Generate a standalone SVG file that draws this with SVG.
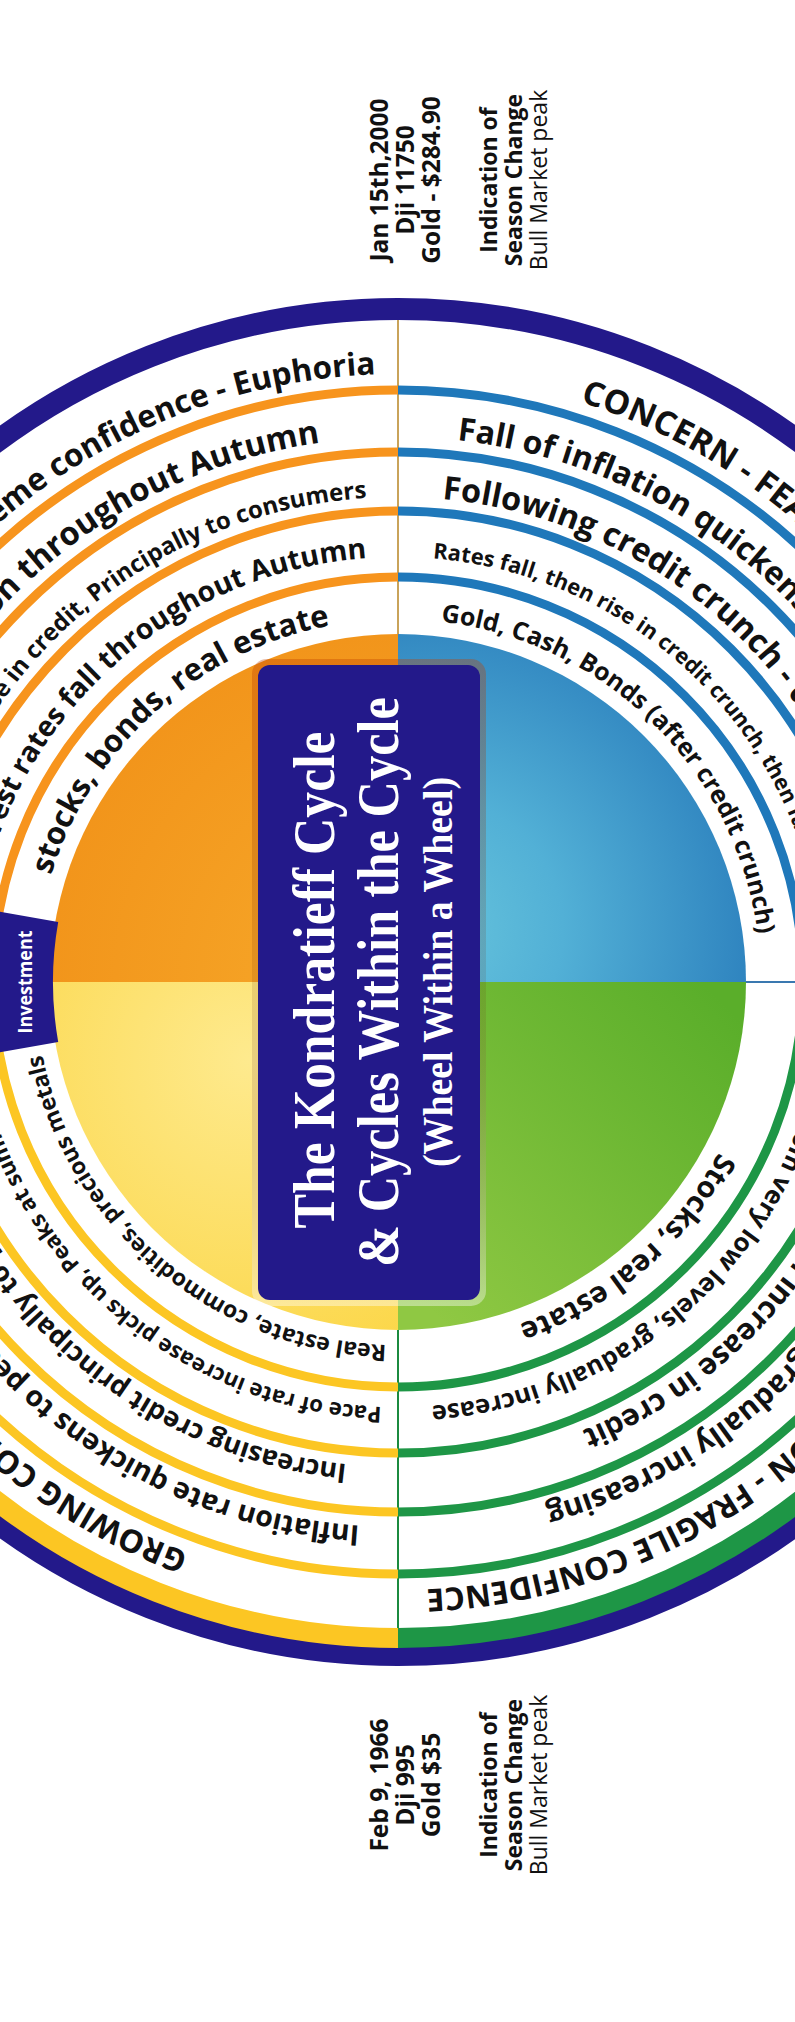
<svg xmlns="http://www.w3.org/2000/svg" width="795" height="2022" viewBox="0 0 795 2022">
<defs>
<style>
.t{font-family:"Open Sans","Liberation Sans",sans-serif;font-weight:700;fill:#111}
.ann{font-family:"Open Sans","Liberation Sans",sans-serif;fill:#111;text-anchor:middle}
.ttl{font-family:"Liberation Serif","Times New Roman",serif;font-weight:700;fill:#fff;text-anchor:middle}
.ln{fill:none;stroke-width:9}
.o{stroke:#F7941D}.b{stroke:#1F78BA}.g{stroke:#1E9646}.y{stroke:#FCC623}
</style>
<radialGradient id="gTL" gradientUnits="userSpaceOnUse" cx="398" cy="982" r="348"><stop offset="0" stop-color="#F7AA2B"/><stop offset="1" stop-color="#F2951B"/></radialGradient>
<radialGradient id="gTR" gradientUnits="userSpaceOnUse" cx="430" cy="930" r="380"><stop offset="0" stop-color="#66C4DC"/><stop offset="0.35" stop-color="#52B0D6"/><stop offset="1" stop-color="#2476B8"/></radialGradient>
<linearGradient id="gBR" gradientUnits="userSpaceOnUse" x1="420" y1="1300" x2="720" y2="1000"><stop offset="0" stop-color="#8FC843"/><stop offset="1" stop-color="#5AAE2A"/></linearGradient>
<radialGradient id="gBL" gradientUnits="userSpaceOnUse" cx="250" cy="1060" r="360"><stop offset="0" stop-color="#FEEA8E"/><stop offset="1" stop-color="#FBD43F"/></radialGradient>
<linearGradient id="gGlow" x1="0" y1="0" x2="0" y2="1"><stop offset="0" stop-color="#c04000" stop-opacity="0.35"/><stop offset="0.5" stop-color="#602000" stop-opacity="0.12"/><stop offset="1" stop-color="#fff" stop-opacity="0.4"/></linearGradient>
<path id="c608" d="M -210,982 A 608 608 0 1 1 1006,982 A 608 608 0 1 1 -210,982"/>
<path id="c545" d="M -147,982 A 545 545 0 1 1 943,982 A 545 545 0 1 1 -147,982"/>
<path id="c485" d="M -87,982 A 485 485 0 1 1 883,982 A 485 485 0 1 1 -87,982"/>
<path id="c425" d="M -27,982 A 425 425 0 1 1 823,982 A 425 425 0 1 1 -27,982"/>
<path id="c363" d="M 35,982 A 363 363 0 1 1 761,982 A 363 363 0 1 1 35,982"/>
</defs>
<rect width="795" height="2022" fill="#fff"/>

<g id="connectors">
<line x1="398" y1="318" x2="398" y2="636" stroke="#C9A35A" stroke-width="2"/>
<line x1="398" y1="1328" x2="398" y2="1666" stroke="#1B8A3F" stroke-width="2"/>
<line x1="745" y1="982" x2="795" y2="982" stroke="#3A78B0" stroke-width="2"/>
</g>

<g id="rings">
<path class="ln o" d="M -7,982 A 405 405 0 0 1 398,577"/>
<path class="ln o" d="M -73,982 A 471 471 0 0 1 398,511"/>
<path class="ln o" d="M -132,982 A 530 530 0 0 1 398,452"/>
<path class="ln o" d="M -194,982 A 592 592 0 0 1 398,390"/>
<path class="ln b" d="M 398,577 A 405 405 0 0 1 803,982"/>
<path class="ln b" d="M 398,511 A 471 471 0 0 1 869,982"/>
<path class="ln b" d="M 398,452 A 530 530 0 0 1 928,982"/>
<path class="ln b" d="M 398,390 A 592 592 0 0 1 990,982"/>
<path class="ln g" d="M 803,982 A 405 405 0 0 1 398,1387"/>
<path class="ln g" d="M 869,982 A 471 471 0 0 1 398,1453"/>
<path class="ln g" d="M 928,982 A 530 530 0 0 1 398,1512"/>
<path class="ln g" d="M 990,982 A 592 592 0 0 1 398,1574"/>
<path class="ln y" d="M 398,1387 A 405 405 0 0 1 -7,982"/>
<path class="ln y" d="M 398,1453 A 471 471 0 0 1 -73,982"/>
<path class="ln y" d="M 398,1512 A 530 530 0 0 1 -132,982"/>
<path class="ln y" d="M 398,1574 A 592 592 0 0 1 -194,982"/>
<circle cx="398" cy="982" r="673" fill="none" stroke="#23198A" stroke-width="22"/>
<path d="M 1054,982 A 656 656 0 0 1 398,1638" fill="none" stroke="#1E9646" stroke-width="20"/>
<path d="M 398,1638 A 656 656 0 0 1 -258,982" fill="none" stroke="#FCC623" stroke-width="20"/>
</g>

<g id="disk">
<path d="M 398,982 L 50,982 A 348 348 0 0 1 398,634 Z" fill="url(#gTL)"/>
<path d="M 398,982 L 398,634 A 348 348 0 0 1 746,982 Z" fill="url(#gTR)"/>
<path d="M 398,982 L 746,982 A 348 348 0 0 1 398,1330 Z" fill="url(#gBR)"/>
<path d="M 398,982 L 398,1330 A 348 348 0 0 1 50,982 Z" fill="url(#gBL)"/>
</g>

<g id="investment-tab">
<path d="M 58.2,922.1 L -291.4,860.5 L -291.4,1103.5 L 58.2,1041.9 A 345 345 0 0 1 58.2,922.1 Z" fill="#23198A"/>
<text transform="translate(32,982) rotate(-90)" text-anchor="middle" font-family="Open Sans, Liberation Sans, sans-serif" font-weight="700" font-size="19" fill="#fff" textLength="103" lengthAdjust="spacingAndGlyphs">Investment</text>
</g>

<g id="title">
<rect x="252" y="659" width="234" height="647" rx="15" fill="url(#gGlow)"/>
<rect x="258" y="665" width="222" height="635" rx="12" fill="#23198A"/>
<text class="ttl" transform="translate(334,980) rotate(-90)" font-size="60" textLength="497" lengthAdjust="spacingAndGlyphs">The Kondratieff Cycle</text>
<text class="ttl" transform="translate(398,982) rotate(-90)" font-size="60" textLength="570" lengthAdjust="spacingAndGlyphs">&amp; Cycles Within the Cycle</text>
<text class="ttl" transform="translate(452,972) rotate(-90)" font-size="42" textLength="390" lengthAdjust="spacingAndGlyphs">(Wheel Within a Wheel)</text>
</g>

<g id="autumn-quadrant">
<text class="t" font-size="31.5" text-anchor="end"><textPath href="#c608" startOffset="932.8">Extreme confidence - Euphoria</textPath></text>
<text class="t" font-size="32.5" text-anchor="end"><textPath href="#c545" startOffset="778.1">Disinflation throughout Autumn</textPath></text>
<text class="t" font-size="24" text-anchor="end"><textPath href="#c485" startOffset="730.5">Large increase in credit, Principally to consumers</textPath></text>
<text class="t" font-size="28.5" text-anchor="end"><textPath href="#c425" startOffset="636.5">Interest rates fall throughout Autumn</textPath></text>
<text class="t" font-size="31" text-anchor="middle"><textPath href="#c363" startOffset="305.1">stocks, bonds, real estate</textPath></text>
</g>

<g id="winter-quadrant">
<text class="t" font-size="33.5" text-anchor="start"><textPath href="#c608" startOffset="1139.7">CONCERN - FEAR</textPath></text>
<text class="t" font-size="32" text-anchor="start"><textPath href="#c545" startOffset="915.1">Fall of inflation quickens</textPath></text>
<text class="t" font-size="32.5" text-anchor="start"><textPath href="#c485" startOffset="805.9">Following credit crunch - deflation</textPath></text>
<text class="t" font-size="21.8" text-anchor="start"><textPath href="#c425" startOffset="702.5">Rates fall, then rise in credit crunch, then fall</textPath></text>
<text class="t" font-size="25" text-anchor="middle"><textPath href="#c363" startOffset="852.5">Gold, Cash, Bonds (after credit crunch)</textPath></text>
</g>

<g id="spring-quadrant">
<text class="t" font-size="31.5" text-anchor="end"><textPath href="#c608" startOffset="2836.6">CAUTION - FRAGILE CONFIDENCE</textPath></text>
<text class="t" font-size="30" text-anchor="end"><textPath href="#c545" startOffset="2418.9">Inflation gradually increasing</textPath></text>
<text class="t" font-size="30" text-anchor="end"><textPath href="#c485" startOffset="2096.8">Gradual increase in credit</textPath></text>
<text class="t" font-size="25.5" text-anchor="end"><textPath href="#c425" startOffset="1969.5">Rates from very low levels, gradually increase</textPath></text>
<text class="t" font-size="29.5" text-anchor="middle"><textPath href="#c363" startOffset="1451.9">Stocks, real estate</textPath></text>
</g>

<g id="summer-quadrant">
<text class="t" font-size="32" text-anchor="start"><textPath href="#c608" startOffset="3078.5">GROWING CONFIDENCE</textPath></text>
<text class="t" font-size="28.5" text-anchor="start"><textPath href="#c545" startOffset="2606.3">Inflation rate quickens to peak</textPath></text>
<text class="t" font-size="27" text-anchor="start"><textPath href="#c485" startOffset="2336.3">Increasing credit principally to producers</textPath></text>
<text class="t" font-size="22.3" text-anchor="start"><textPath href="#c425" startOffset="2019.2">Pace of rate increase picks up, Peaks at summit</textPath></text>
<text class="t" font-size="23" text-anchor="middle"><textPath href="#c363" startOffset="1964.2">Real estate, commodities, precious metals</textPath></text>
</g>

<g id="note-top">
<text class="ann" font-weight="700" font-size="24.5" transform="translate(388,180) rotate(-90)">Jan 15th,2000</text>
<text class="ann" font-weight="700" font-size="24.5" transform="translate(414,180) rotate(-90)">Dji 11750</text>
<text class="ann" font-weight="700" font-size="24.5" transform="translate(440,180) rotate(-90)">Gold - $284.90</text>
<text class="ann" font-weight="700" font-size="23" transform="translate(497,180) rotate(-90)">Indication of</text>
<text class="ann" font-weight="700" font-size="23" transform="translate(522,180) rotate(-90)">Season Change</text>
<text class="ann" font-weight="400" font-size="23" transform="translate(547,180) rotate(-90)">Bull Market peak</text>
</g>

<g id="note-bottom">
<text class="ann" font-weight="700" font-size="24.5" transform="translate(388,1785) rotate(-90)">Feb 9, 1966</text>
<text class="ann" font-weight="700" font-size="24.5" transform="translate(414,1785) rotate(-90)">Dji 995</text>
<text class="ann" font-weight="700" font-size="24.5" transform="translate(440,1785) rotate(-90)">Gold $35</text>
<text class="ann" font-weight="700" font-size="23" transform="translate(497,1785) rotate(-90)">Indication of</text>
<text class="ann" font-weight="700" font-size="23" transform="translate(522,1785) rotate(-90)">Season Change</text>
<text class="ann" font-weight="400" font-size="23" transform="translate(547,1785) rotate(-90)">Bull Market peak</text>
</g>
</svg>
